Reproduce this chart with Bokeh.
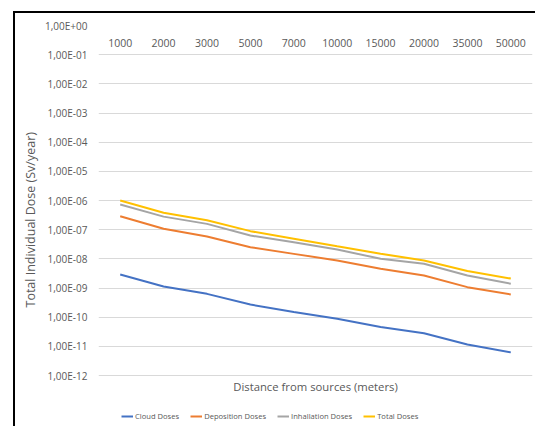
from bokeh.plotting import figure
from bokeh.models import FactorRange, FixedTicker, ColumnDataSource, Legend, Title, Label
from bokeh.core.properties import value
from bokeh.embed import file_html
from bokeh.resources import INLINE

categories = ["1000", "2000", "3000", "5000", "7000", "10000", "15000", "20000", "35000", "50000"]
cloud = [2.9e-9, 1.13e-9, 6.3e-10, 2.7e-10, 1.5e-10, 8.8e-11, 4.6e-11, 2.8e-11, 1.15e-11, 6.2e-12]
deposition = [2.9e-7, 1.07e-7, 5.8e-8, 2.5e-8, 1.48e-8, 8.8e-9, 4.6e-9, 2.7e-9, 1.07e-9, 6.0e-10]
inhalation = [7.3e-7, 2.8e-7, 1.58e-7, 6.3e-8, 3.7e-8, 2.1e-8, 1.0e-8, 6.8e-9, 2.7e-9, 1.4e-9]
total = [1.0e-6, 3.8e-7, 2.1e-7, 8.9e-8, 4.9e-8, 2.7e-8, 1.5e-8, 8.8e-9, 3.8e-9, 2.1e-9]

y_ticks = [1e0, 1e-1, 1e-2, 1e-3, 1e-4, 1e-5, 1e-6, 1e-7, 1e-8, 1e-9, 1e-10, 1e-11, 1e-12]
y_tick_labels = ["1,00E+00", "1,00E-01", "1,00E-02", "1,00E-03", "1,00E-04", "1,00E-05",
                 "1,00E-06", "1,00E-07", "1,00E-08", "1,00E-09", "1,00E-10", "1,00E-11", "1,00E-12"]
series_names = ["Cloud Doses", "Deposition Doses", "Inhallation Doses", "Total Doses"]
series_colors = ["#4472C4", "#ED7D31", "#A5A5A5", "#FFC000"]

FONT = "Open Sans"
TXT = "#595959"

# layout: canvas 522x415; plot frame runs to the canvas bottom so that the
# x title and legend (drawn inside the frame, below 1E-12) are not clipped.
W, H = 522, 415
TOP, LEFT, RIGHT = 12, 83, 5
GRID_SPAN = 350.0                       # px from 1E+00 to 1E-12
FRAME_H = H - TOP
decades = 12.0 * FRAME_H / GRID_SPAN
y_lo = 10 ** (-decades)

p = figure(width=W, height=H, x_range=FactorRange(*categories),
           y_axis_type="log", y_range=(y_lo, 1), x_axis_type=None,
           output_backend="svg", toolbar_location=None,
           min_border_left=LEFT, min_border_right=RIGHT, min_border_top=TOP, min_border_bottom=0)
p.styles = {"margin-left": "13px", "margin-top": "11px",
            "border-left": "2px solid #000000", "border-top": "2px solid #000000"}
p.outline_line_color = None
p.background_fill_color = "white"
p.border_fill_color = "white"

tk = FixedTicker(ticks=y_ticks)
p.yaxis.ticker = tk
p.ygrid.ticker = tk
p.yaxis.major_label_overrides = {t: l for t, l in zip(y_ticks, y_tick_labels)}
p.yaxis.axis_line_color = None
p.yaxis.major_tick_line_color = None
p.yaxis.minor_tick_line_color = None
p.yaxis.major_tick_out = 0
p.yaxis.major_label_standoff = 11
p.yaxis.major_label_text_font = FONT
p.yaxis.major_label_text_font_size = "10px"
p.yaxis.major_label_text_color = TXT

ytitle = Title(text="Total Individual Dose (Sv/year)", align="left",
               offset=FRAME_H - (307 - 25), standoff=8,
               text_font=FONT, text_font_size="12.5px", text_font_style="normal",
               text_color=TXT)
p.add_layout(ytitle, "left")

p.xgrid.grid_line_color = None
p.ygrid.grid_line_color = "#D9D9D9"
p.ygrid.grid_line_width = 1

# category labels inside the plot, just below the top gridline (Excel style)
lab_src = ColumnDataSource(dict(x=categories, y=[0.25] * len(categories), t=categories))
p.text(x="x", y="y", text="t", source=lab_src, text_align="center", text_baseline="middle",
       text_font=value(FONT), text_font_size="10.5px", text_color=TXT)

# x axis title, below the 1E-12 gridline
xt = Label(x=len(categories) / 2, y=10 ** (-12 - 11 / (GRID_SPAN / 12)),
           text="Distance from sources (meters)", text_align="center", text_baseline="middle",
           text_font=FONT, text_font_size="11.3px", text_color=TXT)
p.add_layout(xt)

items = []
for name, vals, col in zip(series_names, [cloud, deposition, inhalation, total], series_colors):
    r = p.line(x=categories, y=vals, line_color=col, line_width=2)
    items.append((name, [r]))

lg = Legend(items=items, orientation="horizontal", location=(23, 7))
lg.glyph_width = 12
lg.glyph_height = 10
lg.label_standoff = 2
lg.spacing = 11
lg.padding = 1
lg.margin = 0
lg.label_text_font = FONT
lg.label_text_font_size = "7.6px"
lg.label_text_color = TXT
lg.label_height = 10
lg.border_line_color = None
lg.background_fill_alpha = 0
p.add_layout(lg, "center")

open("out.html", "w").write(file_html(p, INLINE))
